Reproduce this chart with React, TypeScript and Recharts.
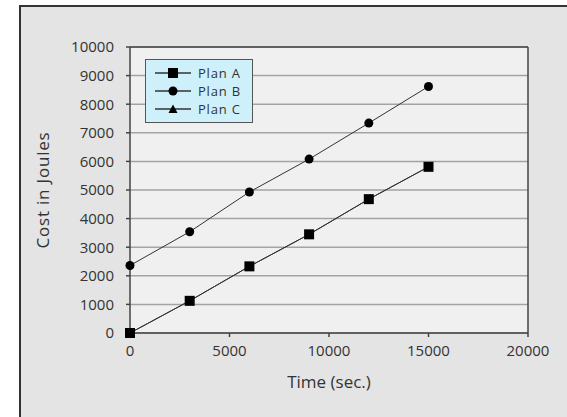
import React from "react";
import { LineChart, Line, XAxis, YAxis, CartesianGrid, Legend, ReferenceLine } from "recharts";

const timeSec = [0, 3000, 6000, 9000, 12000, 15000];
const planA = [0, 1125, 2330, 3450, 4680, 5810];
const planB = [2360, 3540, 4930, 6080, 7340, 8620];
const planC = [0, 1125, 2330, 3450, 4680, 5810];
const seriesNames = ["Plan A", "Plan B", "Plan C"];
const xTicks = [0, 5000, 10000, 15000, 20000];
const yTicks = [0, 1000, 2000, 3000, 4000, 5000, 6000, 7000, 8000, 9000, 10000];

const data = timeSec.map((t, i) => ({ t, "Plan A": planA[i], "Plan B": planB[i], "Plan C": planC[i] }));

const shapes: Record<string, string> = { "Plan A": "square", "Plan B": "circle", "Plan C": "triangle" };

const FONT = "'Open Sans', sans-serif";
const INK = "#333";

function Marker({ cx, cy, shape }: { cx: number; cy: number; shape: string }) {
  if (shape === "square") return <rect x={cx - 5} y={cy - 5} width={10} height={10} fill="#000" />;
  if (shape === "circle") return <circle cx={cx} cy={cy} r={4.5} fill="#000" />;
  return <polygon points={`${cx},${cy - 4.5} ${cx + 4.5},${cy + 4} ${cx - 4.5},${cy + 4}`} fill="#000" />;
}

const makeDot = (name: string) => (p: any) => (
  <Marker key={`${name}-${p.index}`} cx={p.cx} cy={p.cy} shape={shapes[name]} />
);

const renderLegend = () => (
  <div
    style={{
      width: 108,
      height: 64,
      boxSizing: "border-box",
      background: "#cdf0fb",
      border: "1.5px solid #555",
      padding: "4px 0 0 9px",
      fontFamily: FONT,
      fontSize: 13,
      letterSpacing: 0.8,
      color: INK,
    }}
  >
    {seriesNames.map((n) => (
      <div key={n} style={{ display: "flex", alignItems: "center", height: 18 }}>
        <svg width={36} height={12} style={{ marginRight: 7 }}>
          <line x1={0} y1={6} x2={36} y2={6} stroke={INK} strokeWidth={1.5} />
          <Marker cx={18} cy={6} shape={shapes[n]} />
        </svg>
        <span style={{ lineHeight: "17px" }}>{n}</span>
      </div>
    ))}
  </div>
);

export default function App() {
  return (
    <div style={{ position: "absolute", left: 0, top: 0, width: 567, height: 417, background: "#fff", overflow: "hidden" }}>
      <div
        style={{
          position: "absolute",
          left: 19,
          top: 5,
          width: 560,
          height: 410,
          background: "#e4e4e4",
          borderLeft: "2px solid #333",
          borderTop: "2px solid #333",
        }}
      />
      <div style={{ position: "absolute", left: 0, top: 0 }}>
        <LineChart width={567} height={417} data={data} margin={{ top: 47, right: 39, bottom: 54, left: 80 }}>
          <CartesianGrid vertical={false} stroke="#a3a3a3" strokeWidth={1.5} fill="#f0f0f0" />
          <XAxis
            dataKey="t"
            type="number"
            domain={[0, 20000]}
            ticks={xTicks}
            height={30}
            tickSize={4}
            tickMargin={8}
            stroke="#444"
            strokeWidth={1.5}
            tick={{ fill: INK, fontSize: 15, fontFamily: FONT }}
            label={{ value: "Time (sec.)", position: "insideBottom", offset: -25, fill: INK, fontSize: 17, fontFamily: FONT }}
          />
          <YAxis
            type="number"
            domain={[0, 10000]}
            ticks={yTicks}
            width={50}
            tickSize={4}
            tickMargin={12}
            stroke="#444"
            strokeWidth={1.5}
            interval={0}
            tick={{ fill: INK, fontSize: 15, fontFamily: FONT }}
            label={{ value: "Cost in Joules", angle: -90, position: "insideLeft", offset: -37, fill: INK, fontSize: 17, fontFamily: FONT, style: { textAnchor: "middle", letterSpacing: 0.8 } }}
          />
          <ReferenceLine y={10000} stroke="#444" strokeWidth={1.5} />
          <ReferenceLine x={20000} stroke="#444" strokeWidth={1.5} />
          <Legend
            layout="vertical"
            align="center"
            verticalAlign="middle"
            content={renderLegend}
            wrapperStyle={{ left: 145, top: 59, width: 108, height: 64 }}
          />
          {seriesNames.map((n) => (
            <Line
              key={n}
              dataKey={n}
              stroke={INK}
              strokeWidth={1}
              dot={makeDot(n)}
              activeDot={false}
              isAnimationActive={false}
            />
          ))}
        </LineChart>
      </div>
    </div>
  );
}
